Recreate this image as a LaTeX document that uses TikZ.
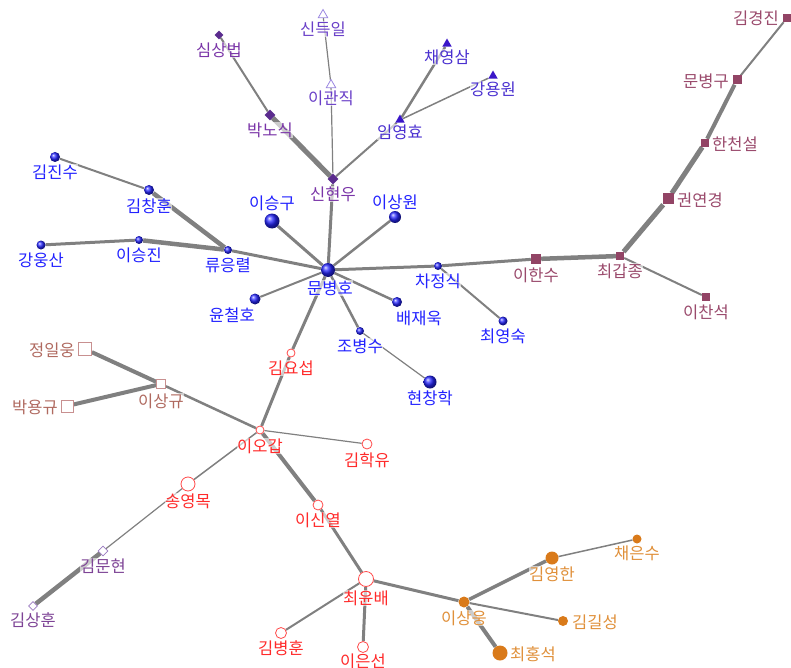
\documentclass[tikz,border=0pt]{standalone}
\usepackage{fontspec}
\setmainfont{Noto Sans CJK KR}
\usetikzlibrary{shapes.geometric}
\pgfdeclarelayer{bg}
\pgfsetlayers{bg,main}
\definecolor{edgec}{HTML}{808080}
\definecolor{bluet}{HTML}{2222FF}
\definecolor{purd}{HTML}{5B2C8E}
\definecolor{purt}{HTML}{7A35A8}
\definecolor{trif}{HTML}{3A16C8}
\definecolor{trit}{HTML}{4A30D0}
\definecolor{otri}{HTML}{9A86E0}
\definecolor{otrit}{HTML}{6A40C8}
\definecolor{maroon}{HTML}{924465}
\definecolor{maroont}{HTML}{9A4A6C}
\definecolor{brsq}{HTML}{C89090}
\definecolor{brt}{HTML}{B06A60}
\definecolor{redc}{HTML}{FF4A4A}
\definecolor{redt}{HTML}{FF2A2A}
\definecolor{lpd}{HTML}{9A7AC0}
\definecolor{lpt}{HTML}{7E4496}
\definecolor{orc}{HTML}{D97A1A}
\definecolor{ort}{HTML}{E0903A}
\tikzset{
  x=1pt, y=-1pt,
  lab/.style={inner sep=0.6pt, fill=white, fill opacity=0.6, text opacity=1, text=#1, font=\fontsize{16.5}{17}\selectfont},
  ball/.style={circle, inner sep=0pt, minimum size=#1, shading=ball, ball color=blue!85!white},
  pdia/.style={diamond, fill=purd, inner sep=0pt, minimum size=#1},
  ftri/.style={regular polygon, regular polygon sides=3, fill=trif, inner sep=0pt, minimum size=#1},
  otriang/.style={regular polygon, regular polygon sides=3, draw=otri, fill=white, inner sep=0pt, minimum size=#1, line width=0.8pt},
  msq/.style={rectangle, fill=maroon, inner sep=0pt, minimum size=#1},
  bsq/.style={rectangle, draw=brsq, fill=white, inner sep=0pt, minimum size=#1, line width=0.8pt},
  rci/.style={circle, draw=redc, fill=white, inner sep=0pt, minimum size=#1, line width=0.8pt},
  ldia/.style={diamond, draw=lpd, fill=white, inner sep=0pt, minimum size=#1, line width=0.8pt},
  oci/.style={circle, fill=orc, inner sep=0pt, minimum size=#1},
  ed/.style={draw=edgec, line width=#1},
}
\begin{document}
\begin{tikzpicture}
\useasboundingbox (0,0) rectangle (791,668);
% ---- marker nodes ----
\node[ball=14] (mbh) at (328,270) {};
\node[ball=15] (lsg) at (272,221) {};
\node[ball=12] (lsw) at (395,217) {};
\node[ball=8] (ryr) at (228,250) {};
\node[ball=10] (kch) at (149,190) {};
\node[ball=10] (kjs) at (55,157) {};
\node[ball=8] (lsj) at (139,240) {};
\node[ball=9] (kus) at (41,245) {};
\node[ball=11] (ych) at (255,299) {};
\node[ball=8] (cjs) at (438,266) {};
\node[ball=9] (cys) at (503,321) {};
\node[ball=10] (bjw) at (397,302) {};
\node[ball=8] (cbs) at (360,331) {};
\node[ball=13] (hch) at (430,382) {};
\node[pdia=11] (shw) at (333,179) {};
\node[pdia=11] (bns) at (270,115) {};
\node[pdia=9] (ssb) at (219,35) {};
\node[ftri=11] (lyh) at (400,120) {};
\node[ftri=11] (cys2) at (447,44) {};
\node[ftri=11] (kyw) at (493,76) {};
\node[otriang=11] (lgj) at (331,85) {};
\node[otriang=11] (sdi) at (323,15) {};
\node[msq=8] (kkj) at (787,18) {};
\node[msq=9] (mbg) at (737,80) {};
\node[msq=8] (hcs) at (705,143) {};
\node[msq=11] (kyk) at (668,199) {};
\node[msq=8] (ckj) at (620,256) {};
\node[msq=10] (lhs) at (536,259) {};
\node[msq=8] (lcs) at (706,297) {};
\node[bsq=13] (jiw) at (85,349) {};
\node[bsq=12] (byg) at (67,406) {};
\node[bsq=9] (lsgy) at (161,384) {};
\node[rci=8] (kys) at (291,353) {};
\node[rci=8] (log) at (260,430) {};
\node[rci=10] (khy) at (367,444) {};
\node[rci=14] (sym) at (188,484) {};
\node[rci=10] (lsy) at (318,505) {};
\node[rci=15] (cyb) at (366,579) {};
\node[rci=11] (kbh) at (281,633) {};
\node[rci=11] (les) at (363,647) {};
\node[ldia=10] (kmh) at (103,551) {};
\node[ldia=9] (ksh) at (33,606) {};
\node[oci=11] (lsu) at (464,602) {};
\node[oci=13] (kyh) at (552,558) {};
\node[oci=9] (ces) at (637,539) {};
\node[oci=10] (kgs) at (563,621) {};
\node[oci=15] (chs) at (500,653) {};
% ---- edges ----
\begin{pgfonlayer}{bg}
\path[ed=3] (mbh) -- (lsg);
\path[ed=3] (mbh) -- (shw);
\path[ed=2.5] (mbh) -- (lsw);
\path[ed=3] (mbh) -- (ryr);
\path[ed=2] (mbh) -- (ych);
\path[ed=3] (mbh) -- (cjs);
\path[ed=3] (cjs) -- (lhs);
\path[ed=4.5] (lhs) -- (ckj);
\path[ed=5] (ckj) -- (kyk);
\path[ed=5] (kyk) -- (hcs);
\path[ed=4] (hcs) -- (mbg);
\path[ed=2] (mbg) -- (kkj);
\path[ed=2] (ckj) -- (lcs);
\path[ed=2] (cjs) -- (cys);
\path[ed=2.5] (mbh) -- (bjw);
\path[ed=2.5] (mbh) -- (cbs);
\path[ed=1.2] (cbs) -- (hch);
\path[ed=3] (mbh) -- (kys);
\path[ed=3] (kys) -- (log);
\path[ed=4.5] (ryr) -- (kch);
\path[ed=2] (kch) -- (kjs);
\path[ed=4.5] (ryr) -- (lsj);
\path[ed=3] (lsj) -- (kus);
\path[ed=5] (shw) -- (bns);
\path[ed=2] (bns) -- (ssb);
\path[ed=1.2] (shw) -- (lgj);
\path[ed=1.2] (lgj) -- (sdi);
\path[ed=2] (shw) -- (lyh);
\path[ed=2.5] (lyh) -- (cys2);
\path[ed=1.5] (lyh) -- (kyw);
\path[ed=2.5] (log) -- (lsgy);
\path[ed=4] (lsgy) -- (jiw);
\path[ed=4] (lsgy) -- (byg);
\path[ed=1.2] (log) -- (khy);
\path[ed=1.5] (log) -- (sym);
\path[ed=1.2] (sym) -- (kmh);
\path[ed=4.5] (kmh) -- (ksh);
\path[ed=4] (log) -- (lsy);
\path[ed=3] (lsy) -- (cyb);
\path[ed=2] (cyb) -- (kbh);
\path[ed=3] (cyb) -- (les);
\path[ed=3] (cyb) -- (lsu);
\path[ed=3.5] (lsu) -- (kyh);
\path[ed=1.5] (kyh) -- (ces);
\path[ed=2] (lsu) -- (kgs);
\path[ed=4] (lsu) -- (chs);
\end{pgfonlayer}
% ---- labels ----
\node[lab=bluet] (t-mbh) at (330,288) {문병호};
\node[lab=bluet] (t-lsg) at (272,203) {이승구};
\node[lab=bluet] (t-lsw) at (395,202) {이상원};
\node[lab=bluet] (t-ryr) at (228,265) {류응렬};
\node[lab=bluet] (t-kch) at (149,206) {김창훈};
\node[lab=bluet] (t-kjs) at (55,172) {김진수};
\node[lab=bluet] (t-lsj) at (139,255) {이승진};
\node[lab=bluet] (t-kus) at (41,260) {강웅산};
\node[lab=bluet] (t-ych) at (232,315) {윤철호};
\node[lab=bluet] (t-cjs) at (438,281) {차정식};
\node[lab=bluet] (t-cys) at (503,336) {최영숙};
\node[lab=bluet] (t-bjw) at (419,318) {배재욱};
\node[lab=bluet] (t-cbs) at (360,346) {조병수};
\node[lab=bluet] (t-hch) at (430,398) {현창학};
\node[lab=purt] (t-shw) at (333,194) {신현우};
\node[lab=purt] (t-bns) at (270,130) {박노식};
\node[lab=purt] (t-ssb) at (219,50) {심상법};
\node[lab=trit] (t-lyh) at (400,132) {임영효};
\node[lab=trit] (t-cys2) at (447,57) {채영삼};
\node[lab=trit] (t-kyw) at (493,89) {강용원};
\node[lab=otrit] (t-lgj) at (331,98) {이관직};
\node[lab=otrit] (t-sdi) at (323,29) {신득일};
\node[lab=maroont] (t-kkj) at (756,18) {김경진};
\node[lab=maroont] (t-mbg) at (706,81) {문병구};
\node[lab=maroont] (t-hcs) at (735,144) {한천설};
\node[lab=maroont] (t-kyk) at (700,200) {권연경};
\node[lab=maroont] (t-ckj) at (620,271) {최갑종};
\node[lab=maroont] (t-lhs) at (536,275) {이한수};
\node[lab=maroont] (t-lcs) at (706,312) {이찬석};
\node[lab=brt] (t-jiw) at (52,350) {정일웅};
\node[lab=brt] (t-byg) at (35,407) {박용규};
\node[lab=brt] (t-lsgy) at (161,401) {이상규};
\node[lab=redt] (t-kys) at (291,368) {김요섭};
\node[lab=redt] (t-log) at (260,446) {이오갑};
\node[lab=redt] (t-khy) at (367,460) {김학유};
\node[lab=redt] (t-sym) at (188,501) {송영목};
\node[lab=redt] (t-lsy) at (318,520) {이신열};
\node[lab=redt] (t-cyb) at (366,598) {최윤배};
\node[lab=redt] (t-kbh) at (281,648) {김병훈};
\node[lab=redt] (t-les) at (363,661) {이은선};
\node[lab=lpt] (t-kmh) at (103,566) {김문현};
\node[lab=lpt] (t-ksh) at (33,620) {김상훈};
\node[lab=ort] (t-lsu) at (464,618) {이상웅};
\node[lab=ort] (t-kyh) at (552,574) {김영한};
\node[lab=ort] (t-ces) at (637,553) {채은수};
\node[lab=ort] (t-kgs) at (595,622) {김길성};
\node[lab=ort] (t-chs) at (533,654) {최홍석};
\end{tikzpicture}
\end{document}
